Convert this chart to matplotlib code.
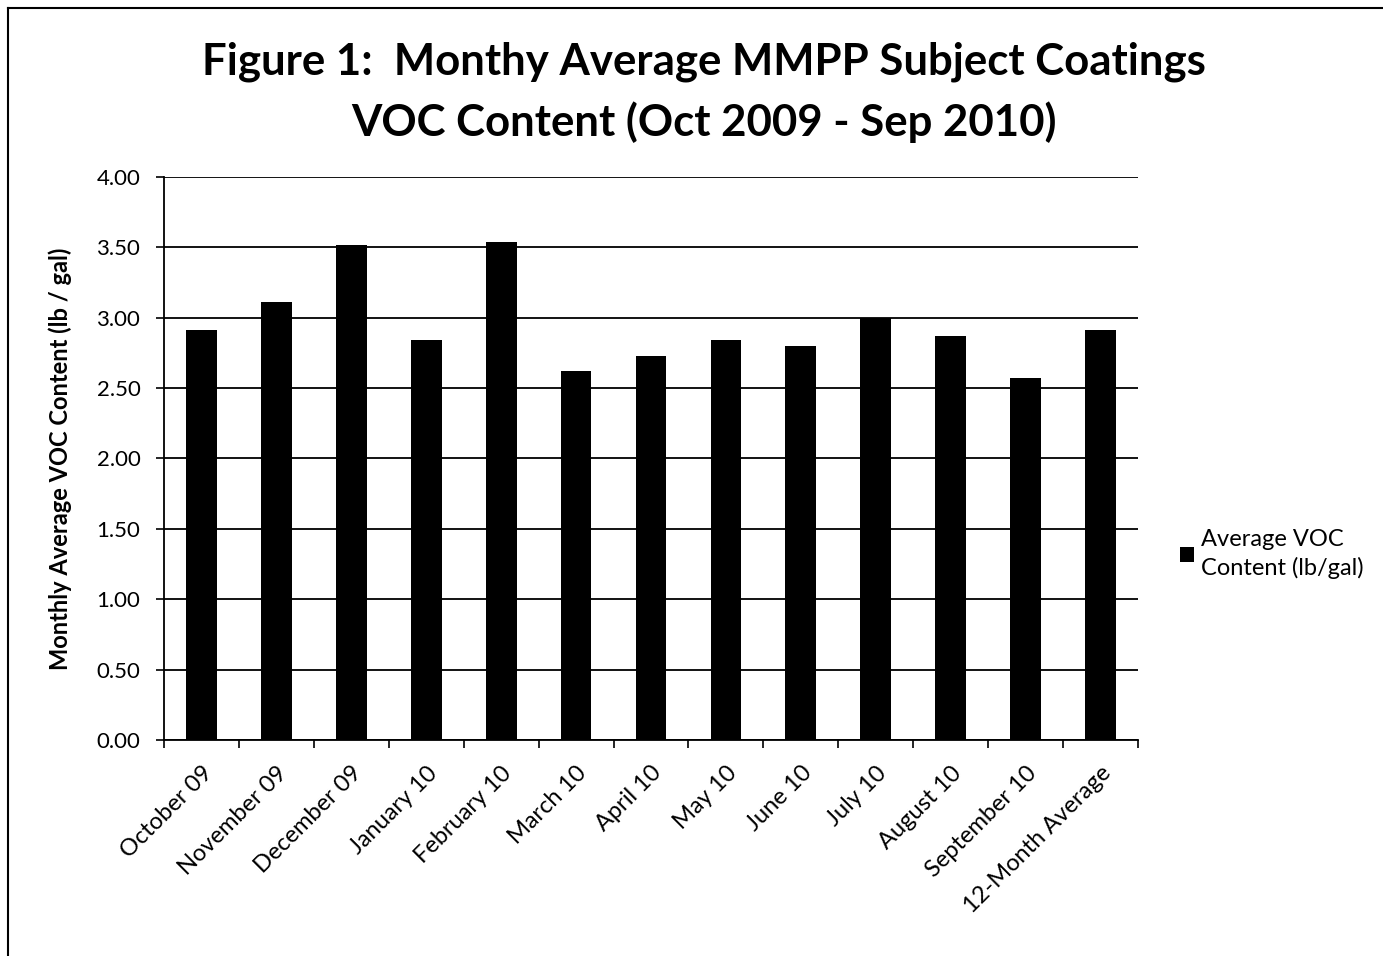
"""Figure 1 bar chart: monthly average VOC content."""
import matplotlib
matplotlib.use("Agg")
import matplotlib.pyplot as plt
import numpy as np
from matplotlib.lines import Line2D

categories = ["October 09", "November 09", "December 09", "January 10",
              "February 10", "March 10", "April 10", "May 10", "June 10",
              "July 10", "August 10", "September 10", "12-Month Average"]
voc = [2.91, 3.11, 3.52, 2.84, 3.54, 2.62, 2.73, 2.84, 2.80, 3.00, 2.87, 2.57, 2.91]
yticks = [0.0, 0.5, 1.0, 1.5, 2.0, 2.5, 3.0, 3.5, 4.0]

plt.rcParams["font.family"] = ["Lato", "DejaVu Sans"]

fig = plt.figure(figsize=(13.83, 9.56), dpi=100)
ax = fig.add_axes([164 / 1383, 1 - 740 / 956, 974 / 1383, 563 / 956])

x = np.arange(len(categories))
ax.bar(x, voc, width=0.41, color="black", label="Average VOC\nContent (lb/gal)", zorder=3)

ax.set_xlim(-0.5, len(categories) - 0.5)
ax.set_ylim(0, 4.0)
ax.set_yticks(yticks)
ax.set_yticklabels([f"{v:.2f}" for v in yticks], fontsize=16)
ax.yaxis.grid(True, color="black", linewidth=1.3, zorder=0)

# category labels sit between the boundary ticks
ax.set_xticks(np.arange(len(categories) + 1) - 0.5)
ax.set_xticklabels([])
ax.set_xticks(x, minor=True)
ax.set_xticklabels(categories, minor=True, rotation=45, ha="right",
                   rotation_mode="anchor", fontsize=17)
ax.tick_params(axis="x", which="minor", length=0, pad=16)
ax.tick_params(axis="x", which="major", length=6, width=1.2, direction="out")
ax.tick_params(axis="y", length=6, width=1.2, direction="out", pad=11)

for s in ["top", "right"]:
    ax.spines[s].set_visible(False)
ax.spines["left"].set_linewidth(1.3)
ax.spines["bottom"].set_linewidth(1.3)

ax.set_ylabel("Monthly Average VOC Content (lb / gal)", fontsize=17, fontweight="bold")
ax.yaxis.set_label_coords(-0.094, 0.5)

fig.text(0.509, 0.935, "Figure 1:  Monthy Average MMPP Subject Coatings",
         ha="center", va="center", fontsize=31.5, fontweight="bold")
fig.text(0.509, 0.872, "VOC Content (Oct 2009 - Sep 2010)",
         ha="center", va="center", fontsize=31.5, fontweight="bold")

leg = fig.legend(loc="center left", bbox_to_anchor=(1180 / 1383, 1 - 554 / 956),
                 frameon=False, fontsize=17, handlelength=0.6, handleheight=0.6,
                 handletextpad=0.3, borderaxespad=0, borderpad=0)
for t in leg.get_texts():
    t.set_linespacing(1.35)

# scanned page border: only top and left edges are visible
fig.add_artist(Line2D([8 / 1383, 1], [1 - 8 / 956] * 2, transform=fig.transFigure,
                      color="black", linewidth=1.5))
fig.add_artist(Line2D([8 / 1383] * 2, [0, 1 - 8 / 956], transform=fig.transFigure,
                      color="black", linewidth=1.5))

fig.savefig("out.png", dpi=100, facecolor="white")
